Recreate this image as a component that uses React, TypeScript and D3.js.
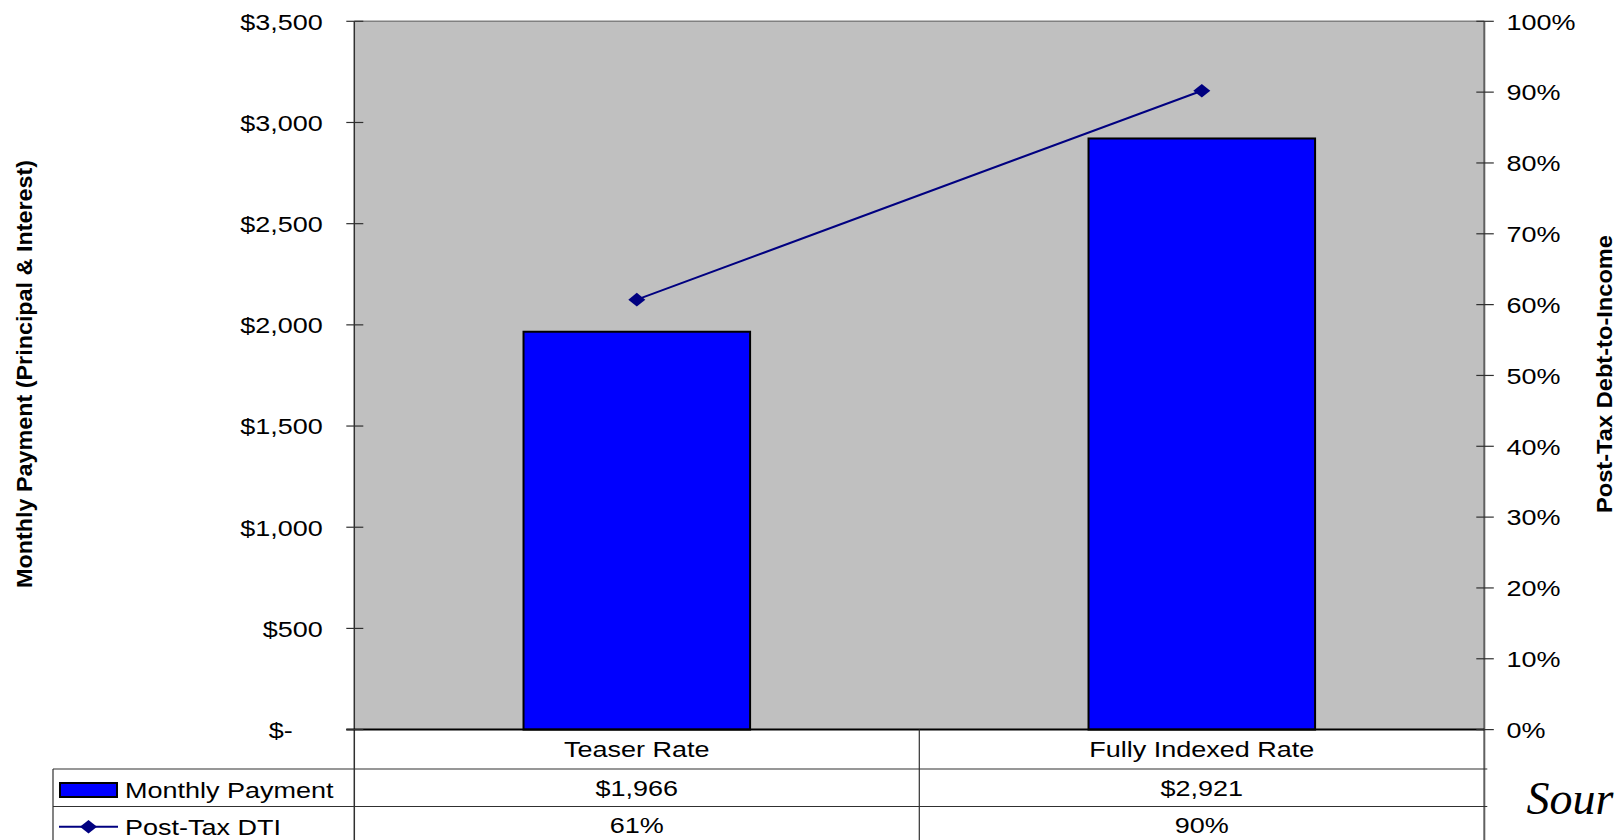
import React from "react";
import * as d3 from "d3";

const categories = ["Teaser Rate", "Fully Indexed Rate"];
const monthlyPayment = [1966, 2921];
const postTaxDTI = [0.607, 0.902];
const seriesNames = ["Monthly Payment", "Post-Tax DTI"];
const leftTitle = "Monthly Payment (Principal & Interest)";
const rightTitle = "Post-Tax Debt-to-Income";
const sourceText = "Sour";

const W = 1617;
const H = 840;
const SX = 1.2;
const FONT = "'Liberation Sans', Arial, sans-serif";
const SERIF = "'Liberation Serif', 'Times New Roman', serif";

function T(props: any) {
  const { x, y, anchor = "start", size = 22.5, weight = "normal", children } = props;
  return (
    <text
      transform={`translate(${x},${y}) scale(${SX},1)`}
      textAnchor={anchor}
      fontSize={size}
      fontWeight={weight}
      fontFamily={FONT}
      fill="#000"
    >
      {children}
    </text>
  );
}

export default function App() {
  const left = 354.3;
  const right = 1484.3;
  const top = 21.3;
  const bottom = 729.6;

  const x = d3.scaleBand<string>().domain(categories).range([left, right]).padding(0);
  const yL = d3.scaleLinear().domain([0, 3500]).range([bottom, top]);
  const yR = d3.scaleLinear().domain([0, 1]).range([bottom, top]);

  const leftTicks = yL.ticks(7);
  const rightTicks = yR.ticks(10);
  const fmtMoney = d3.format("$,.0f");
  const fmtLeft = (v: number) => (v === 0 ? "$-" : fmtMoney(v));
  const fmtPct = d3.format(".0%");

  const bw = x.bandwidth();
  const barW = bw * 0.401;
  const cx = (c: string) => (x(c) as number) + bw / 2;

  const line = d3
    .line<number>()
    .x((_, i) => cx(categories[i]))
    .y((d) => yR(d));

  const diamond = (px: number, py: number, hw = 8.5, hh = 6.8) =>
    `M${px - hw},${py}L${px},${py - hh}L${px + hw},${py}L${px},${py + hh}Z`;

  const digitW = 0.556 * 22.5 * SX;

  const row1 = 769;
  const row2 = 806.5;
  const legX = 53;
  const midX = (x(categories[1]) as number);

  return (
    <svg
      width={W}
      height={H}
      style={{ position: "absolute", left: 0, top: 0, background: "#fff" }}
    >
      {/* plot area */}
      <rect x={left} y={top} width={right - left} height={bottom - top} fill="#C0C0C0" />
      <line x1={left} x2={right} y1={top} y2={top} stroke="#808080" strokeWidth={1.5} />

      {/* bars */}
      {categories.map((c, i) => (
        <rect
          key={c}
          x={cx(c) - barW / 2}
          y={yL(monthlyPayment[i])}
          width={barW}
          height={bottom - yL(monthlyPayment[i])}
          fill="#0000FF"
          stroke="#000"
          strokeWidth={2}
        />
      ))}

      {/* line */}
      <path d={line(postTaxDTI) || ""} fill="none" stroke="#000080" strokeWidth={2} />
      {postTaxDTI.map((v, i) => (
        <path key={i} d={diamond(cx(categories[i]), yR(v))} fill="#000080" />
      ))}

      {/* axes */}
      <line x1={left} x2={left} y1={top} y2={H} stroke="#303030" strokeWidth={1.5} />
      <line x1={right} x2={right} y1={top} y2={H} stroke="#606060" strokeWidth={2} />
      <line x1={left - 8} x2={right} y1={bottom} y2={bottom} stroke="#000" strokeWidth={2} />

      {leftTicks.map((t) => (
        <g key={"l" + t}>
          <line x1={left - 8} x2={left + 9} y1={yL(t)} y2={yL(t)} stroke="#303030" strokeWidth={1.2} />
          <T x={322.7 - (t === 0 ? 2 * digitW : 0)} y={yL(t) + 8.3} anchor="end">
            {fmtLeft(t)}
          </T>
        </g>
      ))}
      {rightTicks.map((t) => (
        <g key={"r" + t}>
          <line x1={right - 8} x2={right + 9.5} y1={yR(t)} y2={yR(t)} stroke="#303030" strokeWidth={1.2} />
          <T x={1506.5} y={yR(t) + 8.3}>
            {fmtPct(t)}
          </T>
        </g>
      ))}

      {/* axis titles */}
      <text
        transform={`translate(32,374) scale(${SX},1) rotate(-90)`}
        textAnchor="middle"
        fontSize={19}
        fontWeight="bold"
        fontFamily={FONT}
        textLength={428}
        lengthAdjust="spacingAndGlyphs"
      >
        {leftTitle}
      </text>
      <text
        transform={`translate(1611.5,374) scale(${SX},1) rotate(-90)`}
        textAnchor="middle"
        fontSize={19}
        fontWeight="bold"
        fontFamily={FONT}
        textLength={278}
        lengthAdjust="spacingAndGlyphs"
      >
        {rightTitle}
      </text>

      {/* data table */}
      <line x1={midX} x2={midX} y1={bottom} y2={H} stroke="#303030" strokeWidth={1.2} />
      <line x1={legX} x2={right + 3} y1={row1} y2={row1} stroke="#303030" strokeWidth={1.2} />
      <line x1={legX} x2={right + 3} y1={row2} y2={row2} stroke="#303030" strokeWidth={1.2} />
      <line x1={legX} x2={legX} y1={row1} y2={H} stroke="#303030" strokeWidth={1.2} />

      {categories.map((c, i) => (
        <g key={"t" + c}>
          <T x={cx(c)} y={756.7} anchor="middle">{c}</T>
          <T x={cx(c)} y={795.7} anchor="middle">{fmtMoney(monthlyPayment[i])}</T>
          <T x={cx(c)} y={832.7} anchor="middle">{fmtPct(postTaxDTI[i])}</T>
        </g>
      ))}

      {/* legend keys */}
      <rect x={60} y={783} width={57} height={14} fill="#0000FF" stroke="#000" strokeWidth={2} />
      <T x={125} y={797.5}>{seriesNames[0]}</T>
      <line x1={59} x2={118} y1={826.7} y2={826.7} stroke="#000080" strokeWidth={2} />
      <path d={diamond(88.5, 826.7)} fill="#000080" />
      <T x={125} y={834.5}>{seriesNames[1]}</T>

      {/* source note (cut off in the original) */}
      <text
        x={1526.5}
        y={814}
        fontSize={46}
        fontStyle="italic"
        fontFamily={SERIF}
        fill="#000"
      >
        {sourceText}
      </text>
    </svg>
  );
}
